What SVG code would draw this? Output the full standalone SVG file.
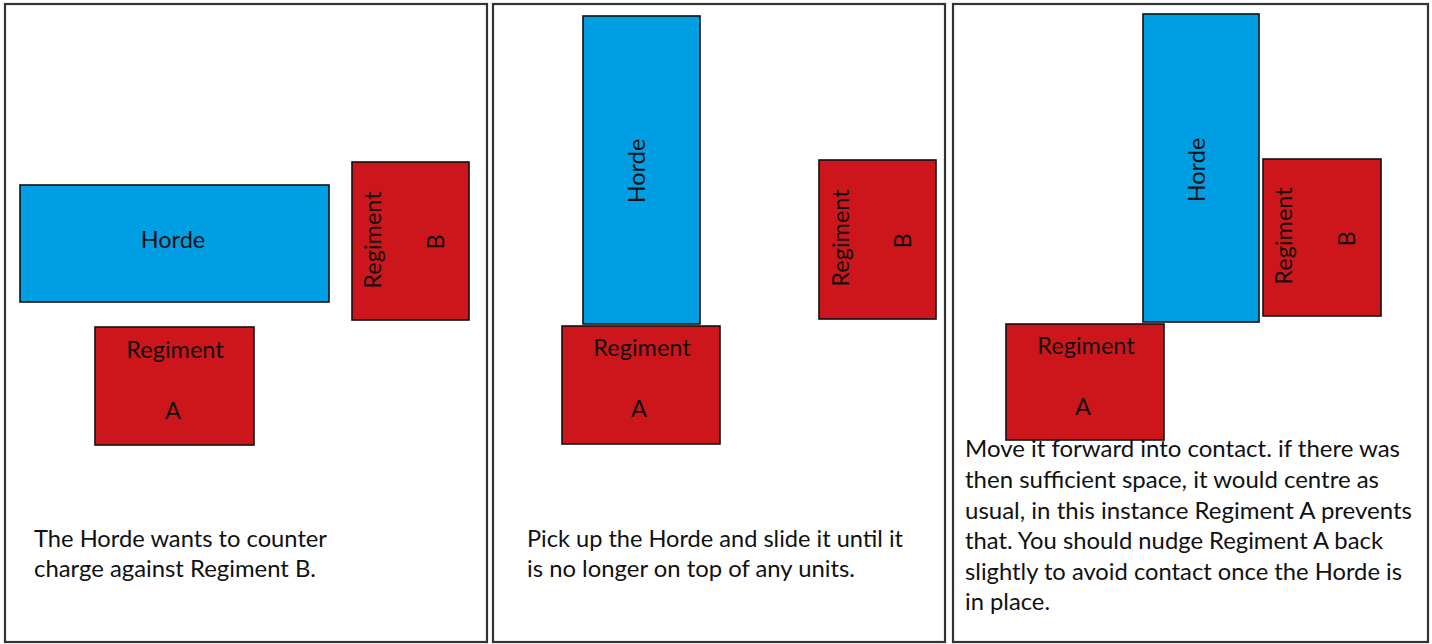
<svg xmlns="http://www.w3.org/2000/svg" width="1432" height="644" viewBox="0 0 1432 644">
<style>
.panel{fill:#fff;stroke:#333;stroke-width:2.2}
.horde{fill:#009FE3;stroke:#111;stroke-width:1.6}
.reg{fill:#CC161B;stroke:#111;stroke-width:1.6}
.lbl{font-family:Lato,"Open Sans",sans-serif;font-size:23.5px;fill:#111;text-anchor:middle}
.txt{font-family:Lato,"Open Sans",sans-serif;font-size:23px;fill:#111}
</style>
<rect width="1432" height="644" fill="#fff"/>
<g id="panel1">
<rect class="panel" x="5" y="4" width="482" height="638"/>
<g id="p1-horde"><rect class="horde" x="20" y="185" width="309" height="117"/><text class="lbl" x="173" y="248">Horde</text></g>
<g id="p1-regB"><rect class="reg" x="352" y="162" width="117" height="158"/><text class="lbl" transform="translate(381,240) rotate(-90)">Regiment</text><text class="lbl" transform="translate(444,242) rotate(-90)">B</text></g>
<g id="p1-regA"><rect class="reg" x="95" y="327" width="159" height="118"/><text class="lbl" x="175" y="358">Regiment</text><text class="lbl" x="173" y="419">A</text></g>
<text class="txt" x="34" y="547" textLength="293" lengthAdjust="spacingAndGlyphs">The Horde wants to counter</text>
<text class="txt" x="34" y="577" textLength="282" lengthAdjust="spacingAndGlyphs">charge against Regiment B.</text>
</g>
<g id="panel2">
<rect class="panel" x="493" y="4" width="452" height="638"/>
<g id="p2-regA"><rect class="reg" x="562" y="326" width="158" height="118"/><text class="lbl" x="642" y="356">Regiment</text><text class="lbl" x="639" y="417">A</text></g>
<g id="p2-horde"><rect class="horde" x="583" y="16" width="117" height="308"/><text class="lbl" transform="translate(645,171) rotate(-90)">Horde</text></g>
<g id="p2-regB"><rect class="reg" x="819" y="160" width="117" height="159"/><text class="lbl" transform="translate(849,238) rotate(-90)">Regiment</text><text class="lbl" transform="translate(911,241) rotate(-90)">B</text></g>
<text class="txt" x="527" y="547" textLength="376" lengthAdjust="spacingAndGlyphs">Pick up the Horde and slide it until it</text>
<text class="txt" x="527" y="577" textLength="328" lengthAdjust="spacingAndGlyphs">is no longer on top of any units.</text>
</g>
<g id="panel3">
<rect class="panel" x="953" y="4" width="475" height="638"/>
<g id="p3-regA"><rect class="reg" x="1006" y="324" width="158" height="116"/><text class="lbl" x="1086" y="354">Regiment</text><text class="lbl" x="1083" y="415">A</text></g>
<g id="p3-horde"><rect class="horde" x="1143" y="14" width="116" height="308"/><text class="lbl" transform="translate(1205,170) rotate(-90)">Horde</text></g>
<g id="p3-regB"><rect class="reg" x="1263" y="159" width="118" height="157"/><text class="lbl" transform="translate(1292,236) rotate(-90)">Regiment</text><text class="lbl" transform="translate(1355,239) rotate(-90)">B</text></g>
<text class="txt" x="965" y="457" textLength="435" lengthAdjust="spacingAndGlyphs">Move it forward into contact. if there was</text>
<text class="txt" x="965" y="488" textLength="414" lengthAdjust="spacingAndGlyphs">then sufficient space, it would centre as</text>
<text class="txt" x="965" y="519" textLength="447" lengthAdjust="spacingAndGlyphs">usual, in this instance Regiment A prevents</text>
<text class="txt" x="965" y="549" textLength="418" lengthAdjust="spacingAndGlyphs">that. You should nudge Regiment A back</text>
<text class="txt" x="965" y="580" textLength="437" lengthAdjust="spacingAndGlyphs">slightly to avoid contact once the Horde is</text>
<text class="txt" x="965" y="610" textLength="85" lengthAdjust="spacingAndGlyphs">in place.</text>
</g>
<g id="connectors"/>
</svg>
